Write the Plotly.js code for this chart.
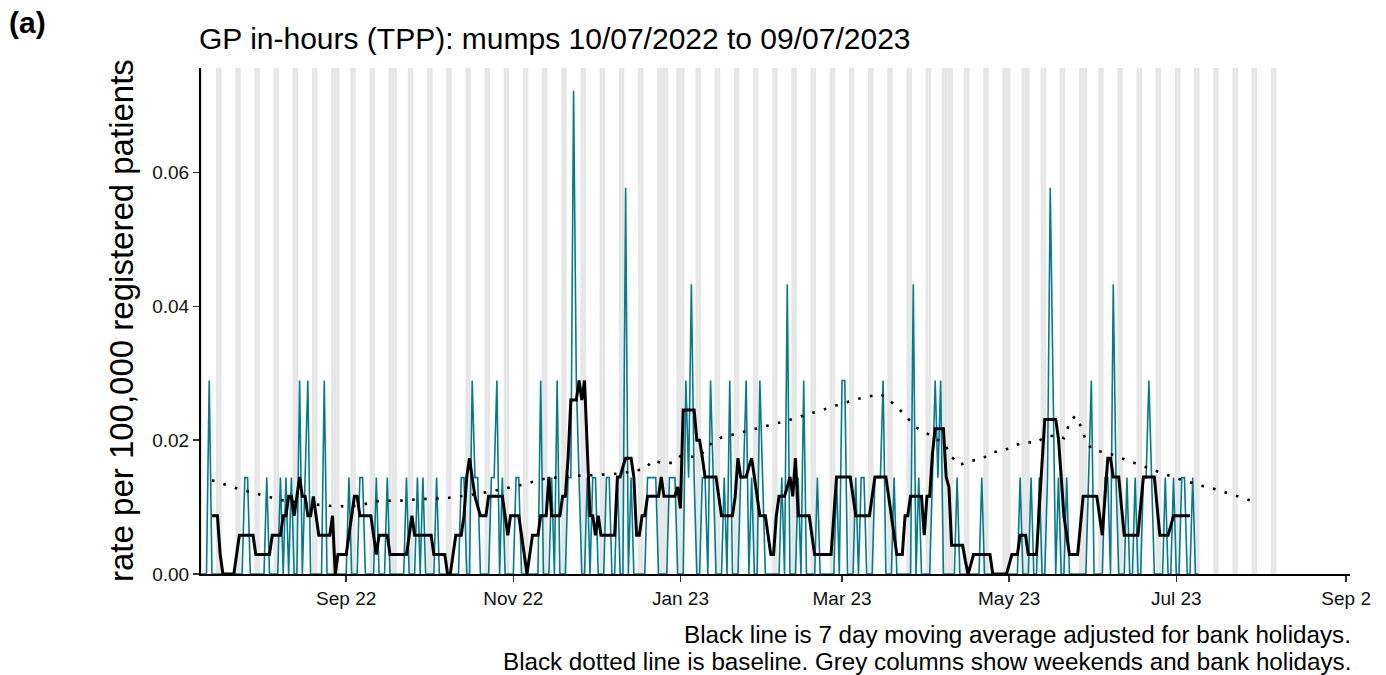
<!DOCTYPE html>
<html><head><meta charset="utf-8">
<script src="https://cdn.plot.ly/plotly-3.0.1.min.js"></script>
<style>html,body{margin:0;padding:0;background:#fff}#chart{width:1386px;height:675px}</style>
</head><body><div id="chart"></div>
<script>
// ---- data (rate per 100,000 registered patients), one value per day from 10/07/2022 ----
const startDate = '2022-07-10';
const rateJul22 = [0,0,0,0.0289,0,0,0,0,0,0,0,0,0,0,0,0,0.0144,0.0144,0,0,0,0];
const rateAug22 = [0,0,0.0144,0,0,0,0,0.0144,0,0.0144, 0,0.0144,0,0,0.0289,0,0.0144,0.0289,0,0, 0,0,0,0.0289,0,0,0,0,0,0,0];
const rateSep22 = [0,0.0144,0,0,0,0.0144,0.0144,0,0,0, 0,0.0144,0,0,0,0.0144,0,0,0,0, 0,0,0.0144,0,0,0,0.0144,0,0.0144,0];
const rateOct22 = [0,0,0,0.0144,0,0,0,0,0,0, 0,0,0.0144,0.0144,0,0,0.0289,0.0144,0.0144,0, 0,0,0,0.0144,0.0144,0.0289,0,0.0144,0,0,0];
const rateNov22 = [0,0.0144,0.0144,0,0,0,0,0,0,0, 0.0289,0,0,0,0.0144,0,0.0289,0,0,0, 0.0144,0.0144,0.0722,0.0289,0.0144,0,0,0.0144,0,0.0144];
const rateDec22 = [0.0144,0,0,0,0.0144,0.0144,0,0,0.0144,0, 0,0.0577,0,0.0144,0,0,0,0,0,0.0144, 0.0144,0.0144,0.0144,0,0,0,0,0.0144,0.0144,0.0144,0];
const rateJan23 = [0,0,0.0289,0.0144,0.0433,0.0144,0,0,0.0144,0.0144, 0,0.0289,0.0144,0,0,0,0.0144,0,0.0289,0, 0,0,0.0144,0.0144,0.0289,0,0.0144,0,0,0.0289, 0.0144];
const rateFeb23 = [0,0,0,0,0,0,0.0144,0,0.0433,0, 0,0,0.0144,0,0.0289,0,0,0,0,0.0144, 0,0,0,0,0,0,0.0144,0];
const rateMar23 = [0.0289,0.0289,0,0,0,0.0144,0,0.0144,0.0144,0, 0,0,0.0144,0.0144,0.0144,0.0289,0,0,0,0.0144, 0,0,0,0,0,0,0.0433,0,0.0144,0, 0];
const rateApr23 = [0,0,0.0144,0.0289,0.0144,0.0289,0,0,0,0, 0,0.0144,0,0,0,0,0,0,0,0, 0.0144,0,0,0,0,0,0,0,0,0];
const rateMay23 = [0,0,0,0,0.0144,0,0,0,0.0144,0, 0,0.0144,0,0,0.0144,0.0577,0.0289,0,0.0144,0, 0,0.0144,0,0,0,0,0,0,0,0.0144, 0.0289];
const rateJun23 = [0,0,0,0,0.0144,0.0144,0,0.0433,0.0144,0, 0,0,0.0144,0,0,0.0144,0,0,0.0144,0.0144, 0.0289,0.0144,0,0,0,0,0.0144,0,0,0.0144];
const rateJul23 = [0,0,0.0144,0.0144,0,0,0.0144,0,0];

// 7 day moving average adjusted for bank holidays (same days)
const maJul22 = [null,null,null,null,0.0087,0.0087,0.0087,0.0029,0,0,0,0,0,0.0029,0.0058,0.0058,0.0058,0.0058,0.0058,0.0058,0.0029,0.0029];
const maAug22 = [0.0029,0.0029,0.0029,0.0029,0.0058,0.0058,0.0058,0.0058,0.0087,0.0087, 0.0116,0.0116,0.0087,0.0116,0.0145,0.0116,0.0116,0.0087,0.0087,0.0116, 0.0087,0.0058,0.0058,0.0058,0.0058,0.0058,0.0087,0,0.0029,0.0029, 0.0029];
const maSep22 = [0.0029,0.0058,0.0087,0.0116,0.0116,0.0087,0.0087,0.0087,0.0087,0.0087, 0.0058,0.0029,0.0058,0.0058,0.0058,0.0058,0.0029,0.0029,0.0029,0.0029, 0.0029,0.0029,0.0029,0.0058,0.0087,0.0058,0.0058,0.0058,0.0058,0.0058];
const maOct22 = [0.0058,0.0058,0.0029,0.0029,0.0029,0.0029,0.0029,0,0,0.0029, 0.0058,0.0058,0.0058,0.0087,0.0145,0.0173,0.0145,0.0116,0.0101,0.0087, 0.0087,0.0087,0.0116,0.0116,0.0116,0.0116,0.0116,0.0116,0.0087,0.0058,0.0087];
const maNov22 = [0.0087,0.0087,0.0087,0.0058,0.0029,0,0.0029,0.0058,0.0058,0.0058, 0.0087,0.0087,0.0087,0.0145,0.0087,0.0087,0.0087,0.0087,0.0116,0.0116, 0.0173,0.0260,0.0260,0.0260,0.0289,0.0260,0.0289,0.0173,0.0087,0.0087];
const maDec22 = [0.0058,0.0087,0.0058,0.0058,0.0058,0.0058,0.0058,0.0058,0.0145,0.0145, 0.0160,0.0173,0.0173,0.0173,0.0145,0.0058,0.0058,0.0087,0.0087,0.0116, 0.0116,0.0116,0.0116,0.0116,0.0145,0.0116,0.0116,0.0116,0.0116,0.0116,0.0130];
const maJan23 = [0.0098,0.0245,0.0245,0.0245,0.0245,0.0245,0.0200,0.0200,0.0174,0.0145, 0.0145,0.0145,0.0145,0.0145,0.0116,0.0087,0.0087,0.0087,0.0087,0.0087, 0.0116,0.0173,0.0145,0.0145,0.0145,0.0160,0.0173,0.0145,0.0116,0.0087,0.0087];
const maFeb23 = [0.0087,0.0058,0.0029,0.0029,0.0087,0.0116,0.0116,0.0116,0.0130,0.0145, 0.0116,0.0173,0.0087,0.0087,0.0087,0.0087,0.0087,0.0058,0.0029,0.0029, 0.0029,0.0029,0.0029,0.0029,0.0029,0.0087,0.0145,0.0145];
const maMar23 = [0.0145,0.0145,0.0145,0.0145,0.0116,0.0087,0.0087,0.0087,0.0087,0.0087, 0.0087,0.0116,0.0145,0.0145,0.0145,0.0145,0.0145,0.0116,0.0087,0.0058, 0.0029,0.0029,0.0029,0.0087,0.0087,0.0116,0.0116,0.0116,0.0116,0.0116,0.0058];
const maApr23 = [0.0116,0.0116,0.0180,0.0217,0.0217,0.0217,0.0217,0.0145,0.0130,0.0043, 0.0043,0.0043,0.0043,0.0043,0.0020,0,0.0014,0.0029,0.0029,0.0029, 0.0029,0.0029,0.0029,0.0029,0,0,0,0,0,0];
const maMay23 = [0.0014,0.0029,0.0029,0.0029,0.0058,0.0058,0.0058,0.0029,0.0029,0.0029, 0.0029,0.0100,0.0174,0.0231,0.0231,0.0231,0.0231,0.0231,0.0202,0.0145, 0.0087,0.0058,0.0029,0.0029,0.0029,0.0029,0.0072,0.0116,0.0116,0.0116,0.0116];
const maJun23 = [0.0116,0.0116,0.0087,0.0058,0.0116,0.0173,0.0173,0.0145,0.0145,0.0145, 0.0101,0.0058,0.0058,0.0058,0.0058,0.0058,0.0058,0.0101,0.0145,0.0145, 0.0145,0.0145,0.0145,0.0101,0.0058,0.0058,0.0058,0.0058,0.0072,0.0087];
const maJul23 = [0.0087,0.0087,0.0087,0.0087,0.0087,0.0087,null,null,null];

// baseline
const baselineDates = ['2022-07-14','2022-07-23','2022-08-01','2022-08-10','2022-08-18','2022-08-28','2022-09-05','2022-09-14','2022-09-19','2022-09-28',
  '2022-10-07','2022-10-16','2022-10-26','2022-11-04','2022-11-12','2022-11-21','2022-12-01','2022-12-10','2022-12-19','2022-12-22',
  '2022-12-25','2022-12-29','2023-01-01','2023-01-05','2023-01-08','2023-01-12','2023-01-16','2023-01-21','2023-01-30','2023-02-08',
  '2023-02-17','2023-02-25','2023-03-06','2023-03-15','2023-03-19','2023-03-22','2023-03-25','2023-03-28','2023-04-01','2023-04-06',
  '2023-04-08','2023-04-10','2023-04-13','2023-04-17','2023-04-21','2023-04-25','2023-04-29','2023-05-02','2023-05-07','2023-05-11',
  '2023-05-14','2023-05-18','2023-05-21','2023-05-23','2023-05-25','2023-05-27','2023-05-29','2023-05-31','2023-06-02','2023-06-06',
  '2023-06-11','2023-06-15','2023-06-19','2023-06-23','2023-06-27','2023-07-02','2023-07-06','2023-07-11','2023-07-15','2023-07-19',
  '2023-07-24','2023-07-28'];
const baselineValues = [0.0140,0.0128,0.0118,0.0109,0.0105,0.0101,0.0102,0.0110,0.0109,0.0112,
  0.0113,0.0118,0.0125,0.0133,0.0142,0.0146,0.0148,0.0150,0.0157,0.0170,
  0.0166,0.0166,0.0176,0.0175,0.0176,0.0194,0.0204,0.0209,0.0219,0.0228,
  0.0239,0.0249,0.0261,0.0269,0.0257,0.0246,0.0233,0.0219,0.0210,0.0198,
  0.0190,0.0175,0.0163,0.0169,0.0172,0.0182,0.0184,0.0191,0.0197,0.0196,
  0.0205,0.0207,0.0203,0.0225,0.0236,0.0222,0.0200,0.0187,0.0184,0.0181,
  0.0173,0.0167,0.0160,0.0154,0.0149,0.0142,0.0137,0.0131,0.0127,0.0122,
  0.0115,0.0110];

const bankHolidays = ['2022-08-29','2022-09-19','2022-12-26','2022-12-27','2023-01-02','2023-04-07','2023-04-10','2023-05-01','2023-05-08','2023-05-29'];
const shadeStart = '2022-07-10';
const shadeEnd = '2023-08-06';

const xTickVals = ['2022-09-01','2022-11-01','2023-01-01','2023-03-01','2023-05-01','2023-07-01','2023-09-01'];
const xTickText = ['Sep 22','Nov 22','Jan 23','Mar 23','May 23','Jul 23','Sep 2'];
const yTickVals = [0, 0.02, 0.04, 0.06];
const yTickText = ['0.00','0.02','0.04','0.06'];

const titleText = 'GP in-hours (TPP): mumps 10/07/2022 to 09/07/2023';
const yTitleText = 'rate per 100,000 registered patients';
const note1 = 'Black line is 7 day moving average adjusted for bank holidays.';
const note2 = 'Black dotted line is baseline. Grey columns show weekends and bank holidays.';
const panelLabel = '(a)';

// ---- assemble ----
function addDays(s, n) {
  const d = new Date(s + 'T00:00:00Z');
  d.setUTCDate(d.getUTCDate() + n);
  return d.toISOString().slice(0, 10);
}
const daily = [].concat(rateJul22, rateAug22, rateSep22, rateOct22, rateNov22, rateDec22,
  rateJan23, rateFeb23, rateMar23, rateApr23, rateMay23, rateJun23, rateJul23);
const movAvg = [].concat(maJul22, maAug22, maSep22, maOct22, maNov22, maDec22,
  maJan23, maFeb23, maMar23, maApr23, maMay23, maJun23, maJul23);
const dates = daily.map((_, i) => addDays(startDate, i));

const shapes = [];
for (let i = 0; ; i++) {
  const ds = addDays(shadeStart, i);
  if (ds > shadeEnd) break;
  const dow = new Date(ds + 'T00:00:00Z').getUTCDay();
  if (dow === 0 || dow === 6 || bankHolidays.includes(ds)) {
    shapes.push({type: 'rect', xref: 'x', yref: 'paper',
      x0: addDays(ds, -1) + ' 12:00', x1: ds + ' 12:00', y0: 0, y1: 1,
      fillcolor: '#e6e6e6', line: {width: 0}, layer: 'below'});
  }
}

const traces = [
  {x: dates, y: daily, type: 'scatter', mode: 'lines', line: {color: '#007c91', width: 1.6}, hoverinfo: 'x+y'},
  {x: baselineDates, y: baselineValues, type: 'scatter', mode: 'lines', line: {color: '#000', width: 2.6, dash: '2.6px,9.4px'}},
  {x: dates, y: movAvg, type: 'scatter', mode: 'lines', line: {color: '#000', width: 3}, connectgaps: false}
];

const W = 1386, H = 675, L = 201, R = 36, T = 68, B = 101;
const pw = W - L - R, ph = H - T - B;
const px = v => (v - L) / pw;
const py = v => (H - B - v) / ph;
const FONT = 'Liberation Sans, Arial, sans-serif';

const layout = {
  width: W, height: H,
  margin: {l: L, r: R, t: T, b: B, pad: 0},
  paper_bgcolor: '#fff', plot_bgcolor: '#fff',
  showlegend: false,
  font: {family: FONT, color: '#000'},
  title: {text: titleText, font: {family: FONT, size: 30, color: '#000'},
    xref: 'container', yref: 'container', x: 199 / W, xanchor: 'left', y: 1 - 38 / H, yanchor: 'middle'},
  xaxis: {type: 'date', range: ['2022-07-10', '2023-09-02 10:00'],
    tickmode: 'array', tickvals: xTickVals, ticktext: xTickText,
    ticks: 'outside', ticklen: 6, tickwidth: 1.5, tickcolor: '#333',
    showline: true, linecolor: '#000', linewidth: 2, showgrid: false, zeroline: false,
    tickfont: {family: FONT, size: 19, color: '#111'}},
  yaxis: {range: [0, 0.0756], tickmode: 'array', tickvals: yTickVals, ticktext: yTickText,
    ticks: 'outside', ticklen: 6, tickwidth: 1.5, tickcolor: '#333',
    showline: true, linecolor: '#000', linewidth: 2, showgrid: false, zeroline: false,
    tickfont: {family: FONT, size: 19, color: '#111'}},
  shapes: shapes,
  annotations: [
    {text: '<b>' + panelLabel + '</b>', xref: 'paper', yref: 'paper', x: px(7), y: py(22), xanchor: 'left', yanchor: 'middle',
      showarrow: false, font: {family: FONT, size: 30, color: '#000'}},
    {text: yTitleText, xref: 'paper', yref: 'paper', x: px(121), y: py(321), xanchor: 'center', yanchor: 'middle',
      textangle: -90, showarrow: false, font: {family: FONT, size: 33, color: '#000'}},
    {text: note1, xref: 'paper', yref: 'paper', x: px(1353), y: py(634), xanchor: 'right', yanchor: 'middle',
      showarrow: false, font: {family: FONT, size: 24.2, color: '#000'}},
    {text: note2, xref: 'paper', yref: 'paper', x: px(1353), y: py(661), xanchor: 'right', yanchor: 'middle',
      showarrow: false, font: {family: FONT, size: 24.2, color: '#000'}}
  ]
};

Plotly.newPlot('chart', traces, layout, {displayModeBar: false, staticPlot: true});
</script>
</body></html>
